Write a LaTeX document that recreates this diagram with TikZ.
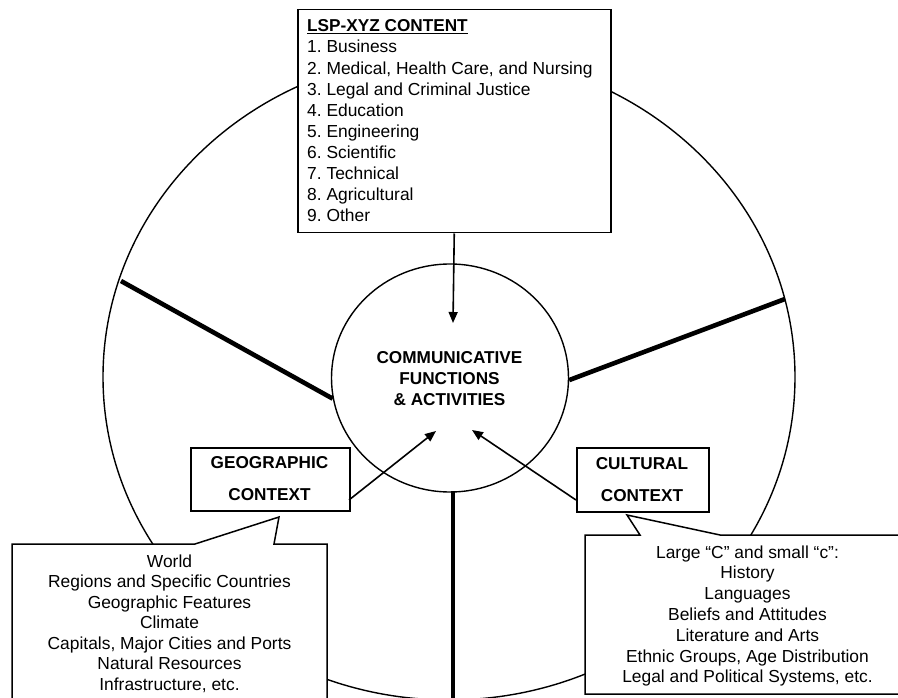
\documentclass[tikz,border=0pt]{standalone}
\usepackage{fontspec}
\setmainfont{Liberation Sans}
\usetikzlibrary{arrows.meta,shapes.geometric}
\newcommand\regtext{\fontsize{17.4}{21}\selectfont}
\newcommand\boldtext{\fontsize{17.2}{21}\selectfont\bfseries}
\frenchspacing

\begin{document}
\begin{tikzpicture}[x=1pt,y=-1pt,
  ring/.style={line width=1.4pt},
  box/.style={draw, line width=1.5pt, fill=white, inner sep=0, anchor=north west},
  bubble/.style={draw, line width=1.5pt, fill=white, line join=miter},
  spoke/.style={line width=4.6pt},
  feed/.style={line width=1.6pt, -{Triangle[length=11pt,width=9pt]}},
  item/.style={inner sep=0, anchor=base west, font=\regtext},
  cline/.style={inner sep=0, anchor=base, font=\regtext},
  bline/.style={inner sep=0, anchor=base, font=\boldtext}]

\clip (0,0) rectangle (898,698);
\fill[white] (0,0) rectangle (898,698);

% outer ring
\draw[ring] (449,377) ellipse [x radius=346, y radius=323];

% core circle
\node[draw, ring, ellipse, fill=white, minimum width=237, minimum height=228, inner sep=0] (core) at (450,378) {};

% spokes dividing the ring
\coordinate (lout) at (121,281);
\coordinate (rout) at (785,299);
\coordinate (vtop) at (453,491);
\coordinate (vbot) at (453,700);
\draw[spoke] (lout) -- (core.190);
\draw[spoke] (rout) -- (core.-1.5);
\draw[spoke] (vtop) -- (vbot);

% callout with geographic details
\path[bubble] (12,702) -- (12,544) -- (195,544) -- (279,517) -- (274,544) -- (327,544) -- (327,702);
% callout with cultural details
\path[bubble] (585,694) -- (585,535) -- (640,535) -- (627,515) -- (720,535) -- (905,535) -- (905,694) -- cycle;

% boxes
\node[box, minimum width=313, minimum height=223] (lsp) at (297,9) {};
\node[box, minimum width=159, minimum height=63] (geo) at (190,447) {};
\node[box, minimum width=132, minimum height=64] (cult) at (576,447) {};

% arrows into the core
\coordinate (ttip) at (453,323);
\coordinate (gstart) at (349,500);
\coordinate (gtip) at (436,431);
\coordinate (cstart) at (576,500);
\coordinate (ctip) at (472,430);
\draw[feed] (lsp.south) -- (ttip);
\draw[feed] (gstart) -- (gtip);
\draw[feed] (cstart) -- (ctip);

% content list
\node[bline, anchor=base west] (lsptitle) at (307,32) {\underline{LSP-XYZ CONTENT}};
\foreach \t [count=\i] in {1. Business, {2. Medical, Health Care, and Nursing}, 3. Legal and Criminal Justice, 4. Education, 5. Engineering, 6. Scientific, 7. Technical, 8. Agricultural, 9. Other}
  \node[item] (item\i) at (307,{53+21.1*(\i-1)}) {\t};

% core label
\node[bline] (core1) at (449.5,363) {COMMUNICATIVE};
\node[bline] (core2) at (449.5,384) {FUNCTIONS};
\node[bline] (core3) at (449.5,405) {\& ACTIVITIES};

% context labels
\node[bline] (geo1) at (269.5,468) {GEOGRAPHIC};
\node[bline] (geo2) at (269.5,500) {CONTEXT};
\node[bline] (cult1) at (642,469) {CULTURAL};
\node[bline] (cult2) at (642,501) {CONTEXT};

% geographic details
\foreach \t [count=\i] in {World, Regions and Specific Countries, Geographic Features, Climate, {Capitals, Major Cities and Ports}, Natural Resources, {Infrastructure, etc.}}
  \node[cline] (geod\i) at (169.5,{567+20.5*(\i-1)}) {\t};

% cultural details
\foreach \t [count=\i] in {Large “C” and small “c”:, History, Languages, Beliefs and Attitudes, Literature and Arts, {Ethnic Groups, Age Distribution}, {Legal and Political Systems, etc.}}
  \node[cline] (culd\i) at (747.5,{558+20.8*(\i-1)}) {\t};

\end{tikzpicture}
\end{document}
